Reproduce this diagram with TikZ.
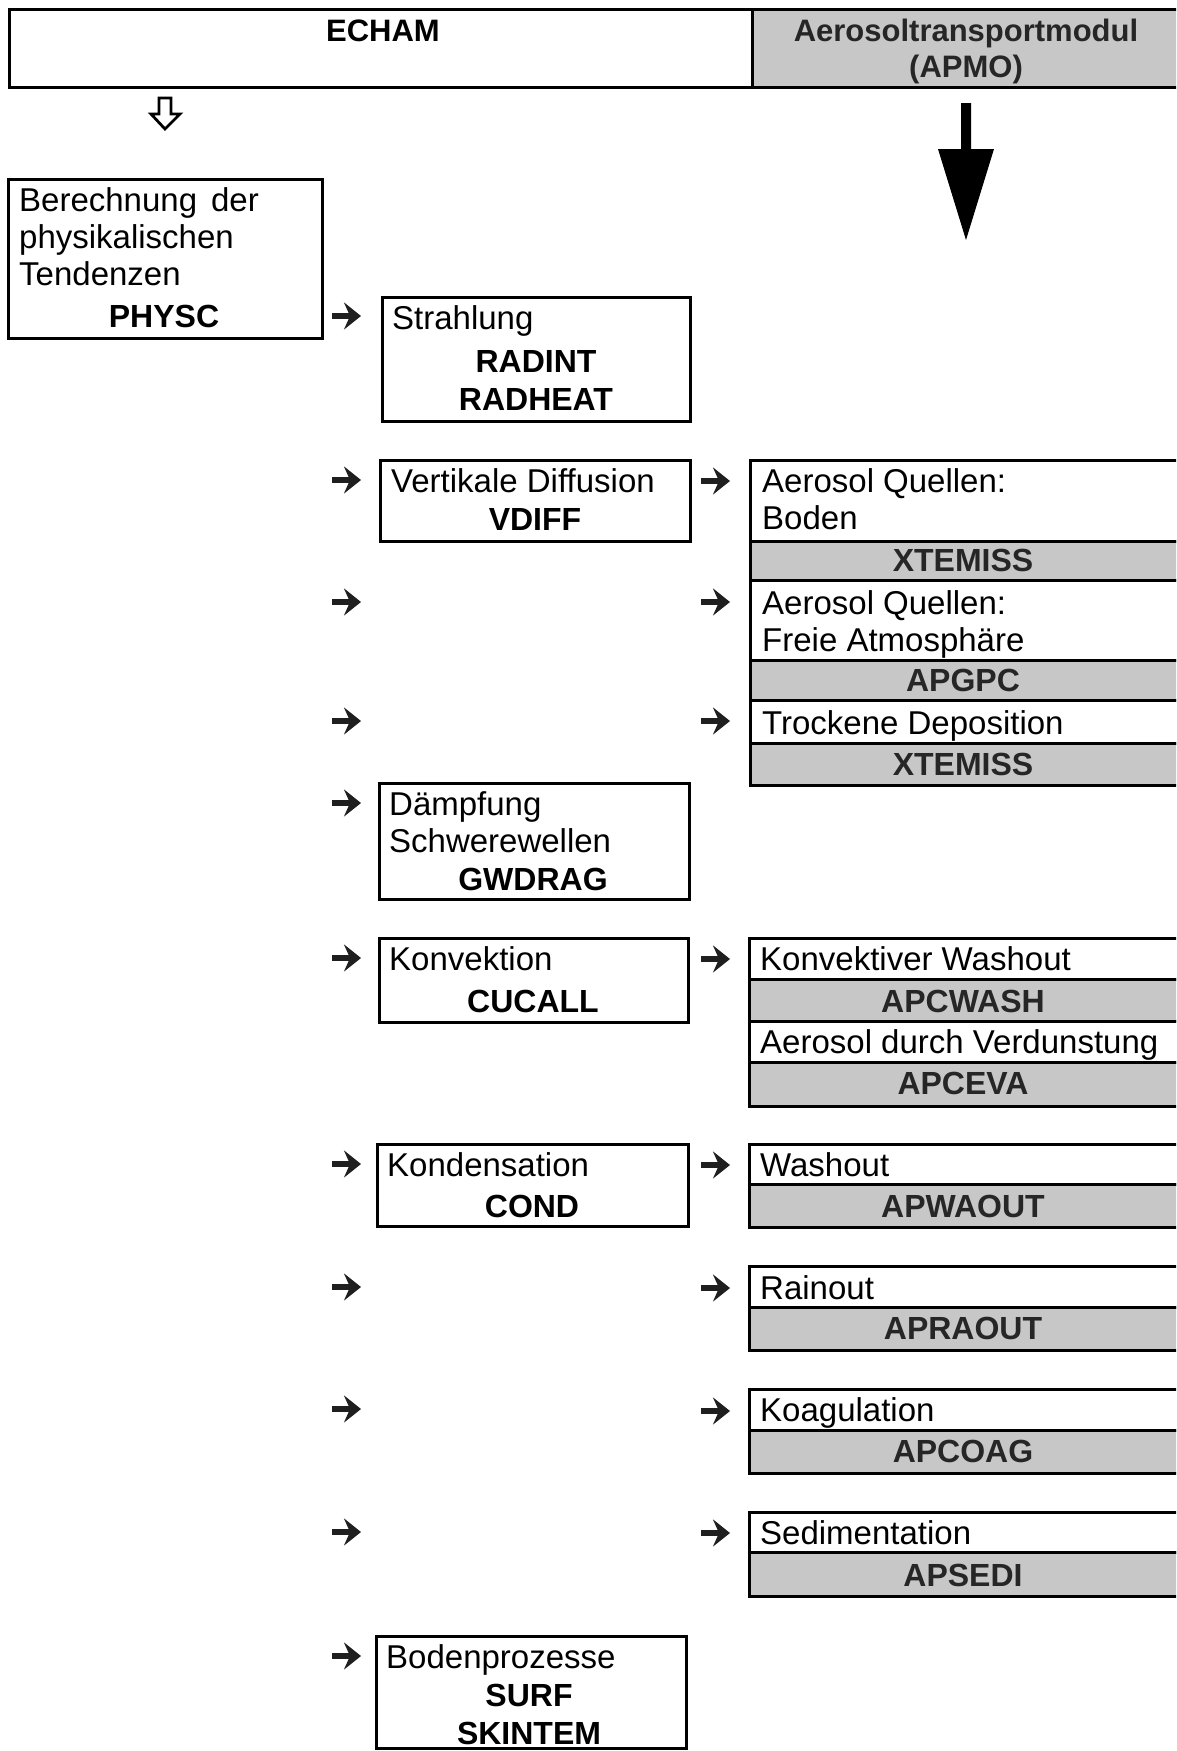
\documentclass[tikz,border=0pt]{standalone}
\usepackage{fontspec}
\setmainfont{Liberation Sans}
\usetikzlibrary{arrows.meta}
\definecolor{dither}{gray}{0.78}
\tikzset{
 box/.style={draw, line width=3pt, fill=white, anchor=north west, inner sep=0pt, outer sep=0pt},
 graybox/.style={box, fill=dither},
 txt/.style={anchor=base west, inner sep=0pt, font=\fontsize{33}{36}\selectfont},
 code/.style={anchor=base, inner sep=0pt, font=\fontsize{32}{36}\selectfont\bfseries},
 fatarrow/.style={line width=6.5pt, draw=black!88, -{Stealth[length=17pt,width=27pt,inset=6pt]}},
}
\begin{document}
\begin{tikzpicture}[x=1pt,y=-1pt]
\useasboundingbox (0,0) rectangle (1176,1751);
\clip (0,0) rectangle (1176,1751);

% top bar
\node[box, minimum width=743, minimum height=78] (echam) at (9,9) {};
\node[graybox, minimum width=433, minimum height=78] (apmo) at (752,9) {};
\node[code, font=\fontsize{31}{36}\selectfont\bfseries] (techam) at (383,41) {ECHAM};
\node[code, font=\fontsize{31}{36}\selectfont\bfseries, text=black!85] (tapmo1) at (966,41) {Aerosoltransportmodul};
\node[code, font=\fontsize{31}{36}\selectfont\bfseries, text=black!85] (tapmo2) at (966,77) {(APMO)};

% hollow arrow
\draw[line width=2.8pt, fill=white, line join=miter] (159,98) -- (171,98) -- (171,114) -- (180,114) -- (165,129) -- (151,114) -- (159,114) -- cycle;
% big black arrow
\fill (961,103) -- (971,103) -- (971,149) -- (994,149) -- (966,240) -- (938,149) -- (961,149) -- cycle;

% PHYSC
\node[box, minimum width=314, minimum height=159] (physc) at (8,179) {};
\node[txt] (p1) at (19,211) {Berechnung\hspace{14pt}der};
\node[txt] (p2) at (19,248) {physikalischen};
\node[txt] (p3) at (19,285) {Tendenzen};
\node[code] (p4) at (164,327) {PHYSC};

% Strahlung
\node[box, minimum width=308, minimum height=124] (strahl) at (382,297) {};
\node[txt] (s1) at (392,329) {Strahlung};
\node[code] (s2) at (536,372) {RADINT};
\node[code] (s3) at (536,410) {RADHEAT};

% Vertikale Diffusion
\node[box, minimum width=310, minimum height=81] (vdiff) at (380,460) {};
\node[txt] (v1) at (391,492) {Vertikale Diffusion};
\node[code] (v2) at (535,530) {VDIFF};

% right group 1
\node[box, minimum width=435, minimum height=81] (q1) at (750,460) {};
\node[graybox, minimum width=435, minimum height=39] (q1c) at (750,541) {};
\node[box, minimum width=435, minimum height=80] (q2) at (750,580) {};
\node[graybox, minimum width=435, minimum height=40] (q2c) at (750,660) {};
\node[box, minimum width=435, minimum height=43] (q3) at (750,700) {};
\node[graybox, minimum width=435, minimum height=42] (q3c) at (750,743) {};
\node[txt] (q1t1) at (762,492) {Aerosol Quellen:};
\node[txt] (q1t2) at (762,529) {Boden};
\node[code, text=black!85] (q1t3) at (963,571) {XTEMISS};
\node[txt] (q2t1) at (762,614) {Aerosol Quellen:};
\node[txt] (q2t2) at (762,651) {Freie Atmosphäre};
\node[code, text=black!85] (q2t3) at (963,691) {APGPC};
\node[txt] (q3t1) at (762,734) {Trockene Deposition};
\node[code, text=black!85] (q3t2) at (963,775) {XTEMISS};

% Daempfung
\node[box, minimum width=310, minimum height=116] (gw) at (379,783) {};
\node[txt] (g1) at (389,815) {Dämpfung};
\node[txt] (g2) at (389,852) {Schwerewellen};
\node[code] (g3) at (533,890) {GWDRAG};

% Konvektion
\node[box, minimum width=309, minimum height=84] (cu) at (379,938) {};
\node[txt] (c1) at (389,970) {Konvektion};
\node[code] (c2) at (533,1012) {CUCALL};

% right group 2
\node[box, minimum width=436, minimum height=41] (w1) at (749,938) {};
\node[graybox, minimum width=436, minimum height=42] (w1c) at (749,979) {};
\node[box, minimum width=436, minimum height=41] (w2) at (749,1021) {};
\node[graybox, minimum width=436, minimum height=44] (w2c) at (749,1062) {};
\node[txt] (w1t) at (760,970) {Konvektiver Washout};
\node[code, text=black!85] (w1k) at (963,1012) {APCWASH};
\node[txt] (w2t) at (760,1053) {Aerosol durch Verdunstung};
\node[code, text=black!85] (w2k) at (963,1094) {APCEVA};

% Kondensation
\node[box, minimum width=311, minimum height=82] (cond) at (377,1144) {};
\node[txt] (k1) at (387,1176) {Kondensation};
\node[code] (k2) at (532,1217) {COND};

% Washout
\node[box, minimum width=436, minimum height=40] (wa) at (749,1144) {};
\node[graybox, minimum width=436, minimum height=43] (wac) at (749,1184) {};
\node[txt] (wat) at (760,1176) {Washout};
\node[code, text=black!85] (wak) at (963,1217) {APWAOUT};

% Rainout
\node[box, minimum width=436, minimum height=41] (ra) at (749,1266) {};
\node[graybox, minimum width=436, minimum height=43] (rac) at (749,1307) {};
\node[txt] (rat) at (760,1299) {Rainout};
\node[code, text=black!85] (rak) at (963,1339) {APRAOUT};

% Koagulation
\node[box, minimum width=436, minimum height=41] (ko) at (749,1389) {};
\node[graybox, minimum width=436, minimum height=43] (koc) at (749,1430) {};
\node[txt] (kot) at (760,1421) {Koagulation};
\node[code, text=black!85] (kok) at (963,1462) {APCOAG};

% Sedimentation
\node[box, minimum width=436, minimum height=40] (se) at (749,1512) {};
\node[graybox, minimum width=436, minimum height=44] (sec) at (749,1552) {};
\node[txt] (set) at (760,1544) {Sedimentation};
\node[code, text=black!85] (sek) at (963,1586) {APSEDI};

% Bodenprozesse
\node[box, minimum width=310, minimum height=112] (surf) at (376,1636) {};
\node[txt] (b1) at (386,1668) {Bodenprozesse};
\node[code] (b2) at (529,1706) {SURF};
\node[code] (b3) at (529,1744) {SKINTEM};

% left arrows
\foreach \i/\yy in {1/316,2/480,3/602,4/721,5/803,6/958,7/1164,8/1287,9/1409,10/1532,11/1656}{
  \coordinate (la\i s) at (332,\yy);
  \coordinate (la\i e) at (361,\yy);
  \draw[fatarrow] (la\i s) -- (la\i e);
}
% right arrows
\foreach \i/\yy in {1/481,2/602,3/721,4/959,5/1165,6/1288,7/1411,8/1533}{
  \coordinate (ra\i s) at (701,\yy);
  \coordinate (ra\i e) at (730,\yy);
  \draw[fatarrow] (ra\i s) -- (ra\i e);
}
\end{tikzpicture}
\end{document}
